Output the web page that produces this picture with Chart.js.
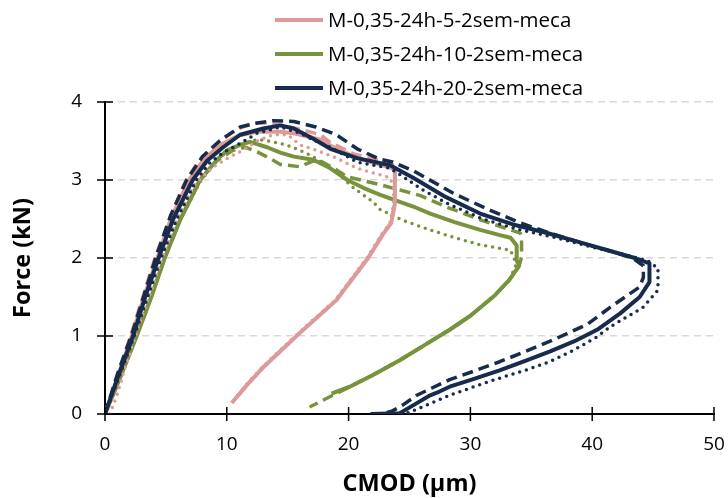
<!DOCTYPE html>
<html><head><meta charset="utf-8">
<script src="https://cdn.jsdelivr.net/npm/chart.js@4.4.1/dist/chart.umd.min.js"></script>
<style>html,body{margin:0;padding:0;background:#fff;}#wrap{width:728px;height:498px;}</style>
</head><body><div id="wrap"><canvas id="c" width="728" height="498"></canvas></div>
<script>
// ---- data (CMOD µm, Force kN) ----
const seriesLabels = ['M-0,35-24h-5-2sem-meca', 'M-0,35-24h-10-2sem-meca', 'M-0,35-24h-20-2sem-meca'];
const xTicks = [0, 10, 20, 30, 40, 50];
const yTicks = [0, 1, 2, 3, 4];

const pinkSolid = [[0,0],[1,0.45],[2.2,1.0],[3.2,1.5],[4.3,2.0],[5.4,2.5],[6.9,3.0],[8.2,3.28],[9.5,3.45],[11,3.57],[12.5,3.62],[14.4,3.62],[15.5,3.6],[17.9,3.51],[18.5,3.44],[20.7,3.28],[22.5,3.2],[23.6,3.15],[23.8,3.1],[23.8,2.7],[23.5,2.45],[22.8,2.3],[21.6,2.0],[20.3,1.73],[19.0,1.46],[17.5,1.25],[16.0,1.04],[14.5,0.82],[13,0.6],[11.7,0.38],[10.4,0.14]];
const pinkDashed = [[0,0],[0.9,0.45],[2.1,1.0],[3.1,1.5],[4.1,2.0],[5.3,2.5],[6.5,2.95],[7.5,3.2],[8.4,3.35],[9.6,3.52],[10.8,3.65],[12.2,3.73],[13.3,3.73],[14.5,3.7],[16,3.65],[17.7,3.58],[18.5,3.48],[20.5,3.33],[22.5,3.25],[23.6,3.2],[23.8,3.1],[23.8,2.7],[23.5,2.45],[22.8,2.3],[21.6,2.0],[20.3,1.73],[19.0,1.46],[17.5,1.25],[16.0,1.04],[14.5,0.82],[13,0.6],[11.7,0.38],[10.6,0.18]];
const pinkDotted = [[0.4,0],[1.0,0.25],[1.5,0.52],[2.5,1.0],[3.6,1.5],[4.7,2.0],[5.9,2.5],[7.4,2.95],[8.9,3.17],[10.3,3.3],[11.3,3.38],[12.5,3.5],[13.8,3.58],[15,3.58],[16,3.45],[17.4,3.38],[19,3.28],[20.7,3.15],[23.4,3.03],[23.7,2.9],[23.7,2.7],[23.4,2.45],[22.7,2.3],[21.5,2.0],[20.2,1.73],[18.9,1.46],[17.4,1.25],[15.9,1.04],[14.4,0.82],[12.9,0.6],[11.6,0.38],[10.5,0.16]];

const greenSolid = [[0,0],[1.2,0.45],[2.6,1.0],[3.8,1.5],[4.9,2.0],[6.2,2.5],[7.8,3.0],[9.2,3.26],[10.0,3.38],[11.1,3.45],[11.9,3.49],[13.3,3.42],[14.4,3.35],[15.5,3.3],[17.1,3.26],[18.5,3.15],[19.9,3.0],[21.2,2.9],[22.6,2.81],[25.3,2.66],[26.7,2.57],[28.7,2.46],[30.8,2.36],[32.5,2.29],[33.3,2.26],[33.8,2.16],[33.8,1.97],[34.0,1.9],[33.2,1.72],[32.0,1.52],[30.0,1.26],[28.3,1.08],[26.2,0.88],[24.2,0.69],[22,0.5],[20.1,0.35],[18.6,0.26]];
const greenDashed = [[0,0],[1.2,0.45],[2.6,1.0],[3.8,1.5],[4.9,2.0],[6.2,2.5],[7.8,3.0],[9.2,3.25],[10.5,3.38],[11.5,3.42],[12.5,3.36],[13.5,3.28],[14.4,3.2],[16.0,3.17],[17.0,3.24],[17.6,3.25],[18.8,3.15],[19.9,3.04],[22.6,2.94],[25.9,2.8],[28.1,2.65],[31,2.48],[34.1,2.32],[34.2,2.28],[34.2,2.01],[34.0,1.9],[33.2,1.72],[32,1.52],[30,1.26],[28.3,1.08],[26.2,0.88],[24.2,0.69],[22,0.5],[20.1,0.35],[18.7,0.24],[16.8,0.09]];
const greenDotted = [[0,0],[1.2,0.45],[2.6,1.0],[3.8,1.5],[4.9,2.0],[6.2,2.5],[7.9,3.0],[9.5,3.3],[11,3.45],[12.5,3.52],[13.5,3.5],[14.9,3.45],[16,3.38],[17.1,3.3],[18,3.2],[19,3.1],[20.4,2.9],[22,2.72],[22.6,2.62],[24.5,2.48],[26.7,2.36],[28.7,2.26],[30.8,2.17],[33.3,2.1],[33.7,1.95],[33.7,1.89],[33.2,1.72],[32,1.52],[30,1.26],[28.3,1.08],[26.2,0.88],[24.2,0.69],[22,0.5],[20.1,0.35],[18.6,0.26]];

const navySolid = [[0,0],[1,0.45],[2.3,1.0],[3.3,1.5],[4.4,2.0],[5.6,2.5],[7.2,3.0],[8.4,3.25],[9.7,3.42],[11.1,3.58],[13.0,3.66],[14.4,3.7],[15.5,3.66],[17.1,3.53],[18.5,3.4],[20.7,3.28],[23.4,3.19],[25.3,3.03],[28,2.78],[30.8,2.57],[33.5,2.43],[36.3,2.32],[39,2.2],[41.7,2.08],[43.5,2.0],[44.7,1.93],[44.7,1.69],[43.9,1.5],[42.3,1.29],[40.4,1.08],[38.5,0.93],[36.5,0.8],[34.5,0.68],[32.4,0.56],[30.3,0.45],[28.3,0.35],[27.2,0.27],[26.7,0.24],[25.5,0.13],[24.2,0.01],[21.8,0]];
const navyDashed = [[0,0],[1,0.5],[2.2,1.02],[3.2,1.52],[4.2,2.02],[5.4,2.55],[6.7,3.0],[8.0,3.3],[9.4,3.5],[11.1,3.68],[12.5,3.73],[13.8,3.76],[15.5,3.75],[17.3,3.68],[19.0,3.58],[20.7,3.4],[22.5,3.27],[23.6,3.23],[25.3,3.12],[28.6,2.83],[31.5,2.62],[34.1,2.45],[36.5,2.32],[39,2.2],[41.7,2.08],[43.3,2.0],[44.2,1.9],[44.2,1.75],[43.9,1.63],[41.5,1.37],[39.6,1.15],[37.5,1.0],[36.5,0.93],[34.5,0.8],[32.4,0.67],[30.3,0.55],[28.3,0.44],[26.8,0.33],[25.6,0.24],[24.5,0.12],[23.6,0.04],[22.8,0]];
const navyDotted = [[0,0],[1.1,0.45],[2.4,1.0],[3.5,1.5],[4.6,2.0],[5.9,2.5],[7.5,3.0],[8.6,3.22],[9.7,3.35],[11.1,3.47],[12.5,3.6],[14.4,3.68],[16.0,3.6],[17.3,3.5],[18.5,3.42],[20.7,3.23],[23.4,3.15],[24.5,3.04],[26,2.88],[28.1,2.7],[31,2.5],[34.1,2.36],[37,2.26],[40,2.14],[42.5,2.05],[44.5,1.97],[45.4,1.87],[45.4,1.59],[44.2,1.37],[41.5,1.12],[40.4,0.99],[38.5,0.82],[36.5,0.67],[34.5,0.56],[32.4,0.46],[30.3,0.35],[28.3,0.24],[26.5,0.12],[24.8,0.01],[24.0,0]];

const colors = ['#DE9A99', '#77933C', '#172B4D'];

const toPts = a => a.map(p => ({x: p[0], y: p[1]}));
const FONT = "'Open Sans', 'DejaVu Sans', sans-serif";

function ds(label, data, color, style, order) {
  const d = {label, data: toPts(data), borderColor: color, backgroundColor: color, showLine: true,
    pointRadius: 0, borderWidth: 4, tension: 0, fill: false, order, borderJoinStyle: 'round'};
  if (style === 'dash') { d.borderDash = [11, 6]; d.borderWidth = 3.5; d.borderCapStyle = 'butt'; }
  if (style === 'dot') { d.borderDash = [0, 7]; d.borderWidth = 3.5; d.borderCapStyle = 'round'; }
  return d;
}

const datasets = [
  ds(seriesLabels[0], pinkSolid, colors[0], 'solid', 3),
  ds(seriesLabels[0] + ' (b)', pinkDashed, colors[0], 'dash', 4),
  ds(seriesLabels[0] + ' (c)', pinkDotted, colors[0], 'dot', 5),
  ds(seriesLabels[1], greenSolid, colors[1], 'solid', 6),
  ds(seriesLabels[1] + ' (b)', greenDashed, colors[1], 'dash', 7),
  ds(seriesLabels[1] + ' (c)', greenDotted, colors[1], 'dot', 8),
  ds(seriesLabels[2], navySolid, colors[2], 'solid', 0),
  ds(seriesLabels[2] + ' (b)', navyDashed, colors[2], 'dash', 1),
  ds(seriesLabels[2] + ' (c)', navyDotted, colors[2], 'dot', 2)
];

const extras = {
  id: 'extras',
  afterDraw(chart) {
    const {ctx, chartArea: a, scales: {x, y}} = chart;
    ctx.save();
    ctx.strokeStyle = '#000';
    ctx.lineWidth = 1.5;
    ctx.setLineDash([]);
    ctx.beginPath();
    yTicks.forEach(v => { const py = y.getPixelForValue(v); ctx.moveTo(a.left - 8, py); ctx.lineTo(a.left + 8, py); });
    xTicks.forEach(v => { const px = x.getPixelForValue(v); ctx.moveTo(px, a.bottom - 7); ctx.lineTo(px, a.bottom + 7); });
    ctx.stroke();
    // legend (three solid series, stacked)
    const rowsY = [20, 54, 88];
    ctx.font = '20.5px ' + FONT;
    ctx.textBaseline = 'middle';
    ctx.textAlign = 'left';
    seriesLabels.forEach((lab, i) => {
      ctx.strokeStyle = colors[i];
      ctx.lineWidth = 4;
      ctx.lineCap = 'butt';
      ctx.beginPath();
      ctx.moveTo(275, rowsY[i]); ctx.lineTo(323, rowsY[i]);
      ctx.stroke();
      ctx.fillStyle = '#000';
      ctx.fillText(lab, 328, rowsY[i] + 1);
    });
    ctx.restore();
  }
};

new Chart(document.getElementById('c'), {
  type: 'scatter',
  data: {datasets},
  options: {
    responsive: false,
    animation: false,
    devicePixelRatio: 1,
    layout: {padding: {top: 102, right: 14, left: 0, bottom: 0}},
    plugins: {legend: {display: false}, tooltip: {enabled: false}},
    scales: {
      x: {
        type: 'linear', min: 0, max: 50,
        afterFit: s => { s.height = 84; s.paddingLeft = 0; s.paddingRight = 0; },
        afterBuildTicks: s => { s.ticks = xTicks.map(v => ({value: v})); },
        ticks: {color: '#000', font: {family: FONT, size: 19}, padding: 19},
        grid: {display: false, drawTicks: false},
        border: {display: true, color: '#000', width: 2},
        title: {display: true, text: 'CMOD (µm)', color: '#000', font: {family: FONT, size: 23.5, weight: 'bold'}, padding: {top: 0, bottom: 0}}
      },
      y: {
        type: 'linear', min: 0, max: 4,
        afterFit: s => { s.width = 105; s.paddingTop = 0; s.paddingBottom = 0; },
        afterBuildTicks: s => { s.ticks = yTicks.map(v => ({value: v})); },
        ticks: {color: '#000', font: {family: FONT, size: 19}, padding: 23},
        grid: {drawTicks: false, lineWidth: 1.5, color: c => (c.tick && c.tick.value === 0) ? 'rgba(0,0,0,0)' : '#D9D9D9'},
        border: {display: true, color: '#000', width: 2, dash: [7, 5]},
        title: {display: true, text: 'Force (kN)', color: '#000', font: {family: FONT, size: 23.5, weight: 'bold'}, padding: {top: 9, bottom: 0}}
      }
    }
  },
  plugins: [extras]
});
</script>
</body></html>
